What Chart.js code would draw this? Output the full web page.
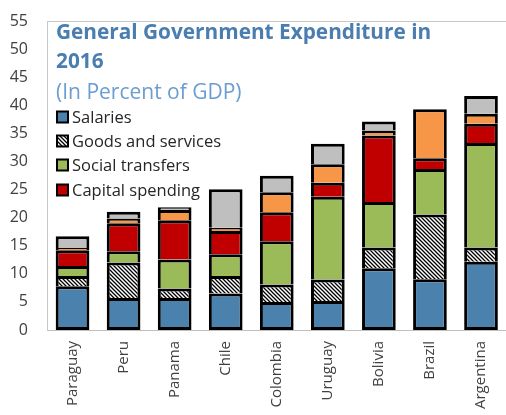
<!DOCTYPE html>
<html>
<head>
<meta charset="utf-8">
<script src="https://cdn.jsdelivr.net/npm/chart.js@4"></script>
<style>
  html, body { margin: 0; padding: 0; background: #fff; overflow: hidden; }
  #wrap { width: 510px; height: 415px; }
</style>
</head>
<body>
<div id="wrap"><canvas id="chart"></canvas></div>
<script>
// Datos (porcentaje del PIB, 2016)
const countries = ['Paraguay', 'Peru', 'Panama', 'Chile', 'Colombia', 'Uruguay', 'Bolivia', 'Brazil', 'Argentina'];
const salaries        = [7.8, 5.7, 5.7, 6.5, 5.0, 5.15, 11.0, 9.05, 12.15];
const goodsServices   = [1.8, 6.3, 1.7, 3.1, 3.1, 3.85, 3.7, 11.5, 2.55];
const socialTransfers = [1.8, 2.0, 5.15, 3.9, 7.7, 14.7, 8.1, 8.1, 18.6];
const capitalSpending = [2.8, 5.0, 7.0, 4.1, 5.15, 2.5, 11.8, 1.9, 3.4];
const interest        = [0.4, 0.85, 1.8, 0.6, 3.55, 3.3, 0.9, 8.75, 1.8];
const other           = [2.1, 1.2, 0.5, 6.85, 2.95, 3.65, 1.6, 0, 3.15];
const yMin = 0, yMax = 55, yStep = 5;

const titleLine1 = 'General Government Expenditure in';
const titleLine2 = '2016';
const subtitle = '(In Percent of GDP)';

// Patrón rayado para "Goods and services"
function makeHatch() {
    const s = 4;
    const c = document.createElement('canvas');
    c.width = s; c.height = s;
    const g = c.getContext('2d');
    g.fillStyle = '#fff';
    g.fillRect(0, 0, s, s);
    g.strokeStyle = '#000';
    g.lineWidth = 1.3;
    g.beginPath();
    g.moveTo(0, 0); g.lineTo(s, s);
    g.moveTo(-2, s - 2); g.lineTo(2, s + 2);
    g.moveTo(s - 2, -2); g.lineTo(s + 2, 2);
    g.stroke();
    return g.createPattern(c, 'repeat');
}
const hatch = makeHatch();

function ds(label, data, color, first) {
    return {
        label: label,
        data: data,
        backgroundColor: color,
        borderColor: '#000',
        borderWidth: 3,
        borderSkipped: first ? false : 'start',
        barPercentage: 0.66,
        categoryPercentage: 1.0
    };
}

// Título y leyenda dentro del área del gráfico
const overlay = {
    id: 'overlay',
    afterDraw(chart) {
        const ctx = chart.ctx;
        const a = chart.chartArea;
        ctx.save();
        // borde superior
        ctx.strokeStyle = '#C8C8C8';
        ctx.lineWidth = 1;
        ctx.beginPath();
        ctx.moveTo(a.left, a.top + 0.5);
        ctx.lineTo(a.right, a.top + 0.5);
        ctx.stroke();

        ctx.textBaseline = 'middle';
        ctx.textAlign = 'left';
        ctx.fillStyle = '#4A7EB0';
        ctx.font = 'bold 20.8px "Open Sans"';
        ctx.fillText(titleLine1, 56, 33);
        ctx.fillText(titleLine2, 56, 62);
        ctx.fillStyle = '#6A9DD0';
        ctx.font = '21px "Open Sans"';
        ctx.fillText(subtitle, 56, 93);

        ctx.font = '16.5px "Open Sans"';
        const rows = [117, 141, 165, 190];
        for (let i = 0; i < 4; i++) {
            const d = chart.data.datasets[i];
            ctx.fillStyle = d.backgroundColor;
            ctx.fillRect(57, rows[i] - 5.5, 11, 11);
            ctx.strokeStyle = '#000';
            ctx.lineWidth = 2;
            ctx.strokeRect(57, rows[i] - 5.5, 11, 11);
            ctx.fillStyle = '#262626';
            ctx.fillText(d.label, 72, rows[i] + 1);
        }
        ctx.restore();
    }
};

new Chart(document.getElementById('chart'), {
    type: 'bar',
    data: {
        labels: countries,
        datasets: [
            ds('Salaries', salaries, '#4B82AD', true),
            ds('Goods and services', goodsServices, hatch),
            ds('Social transfers', socialTransfers, '#9BBB59'),
            ds('Capital spending', capitalSpending, '#C00000'),
            ds('Interest', interest, '#F79646'),
            ds('Other', other, '#BFBFBF')
        ]
    },
    options: {
        responsive: true,
        maintainAspectRatio: false,
        animation: false,
        layout: { padding: { top: 21, right: 0, left: 0, bottom: 0 } },
        plugins: {
            legend: { display: false },
            title: { display: false },
            tooltip: { enabled: false }
        },
        scales: {
            x: {
                stacked: true,
                grid: { display: false, drawTicks: false },
                border: { display: true, color: '#BFBFBF', width: 1 },
                ticks: {
                    color: '#404040',
                    font: { family: 'Open Sans', size: 15 },
                    minRotation: 90,
                    maxRotation: 90,
                    padding: 11
                },
                afterFit(scale) { scale.height = 85; }
            },
            y: {
                stacked: true,
                min: yMin,
                max: yMax,
                // las marcas no se dibujan, solo reservan espacio para las etiquetas
                grid: { display: false, drawTicks: true, tickLength: 16 },
                border: { display: true, color: '#C8C8C8', width: 1 },
                ticks: {
                    stepSize: yStep,
                    color: '#404040',
                    font: { family: 'Open Sans', size: 16 },
                    padding: 3
                },
                afterFit(scale) { scale.width = 47; }
            }
        }
    },
    plugins: [overlay]
});
</script>
</body>
</html>
